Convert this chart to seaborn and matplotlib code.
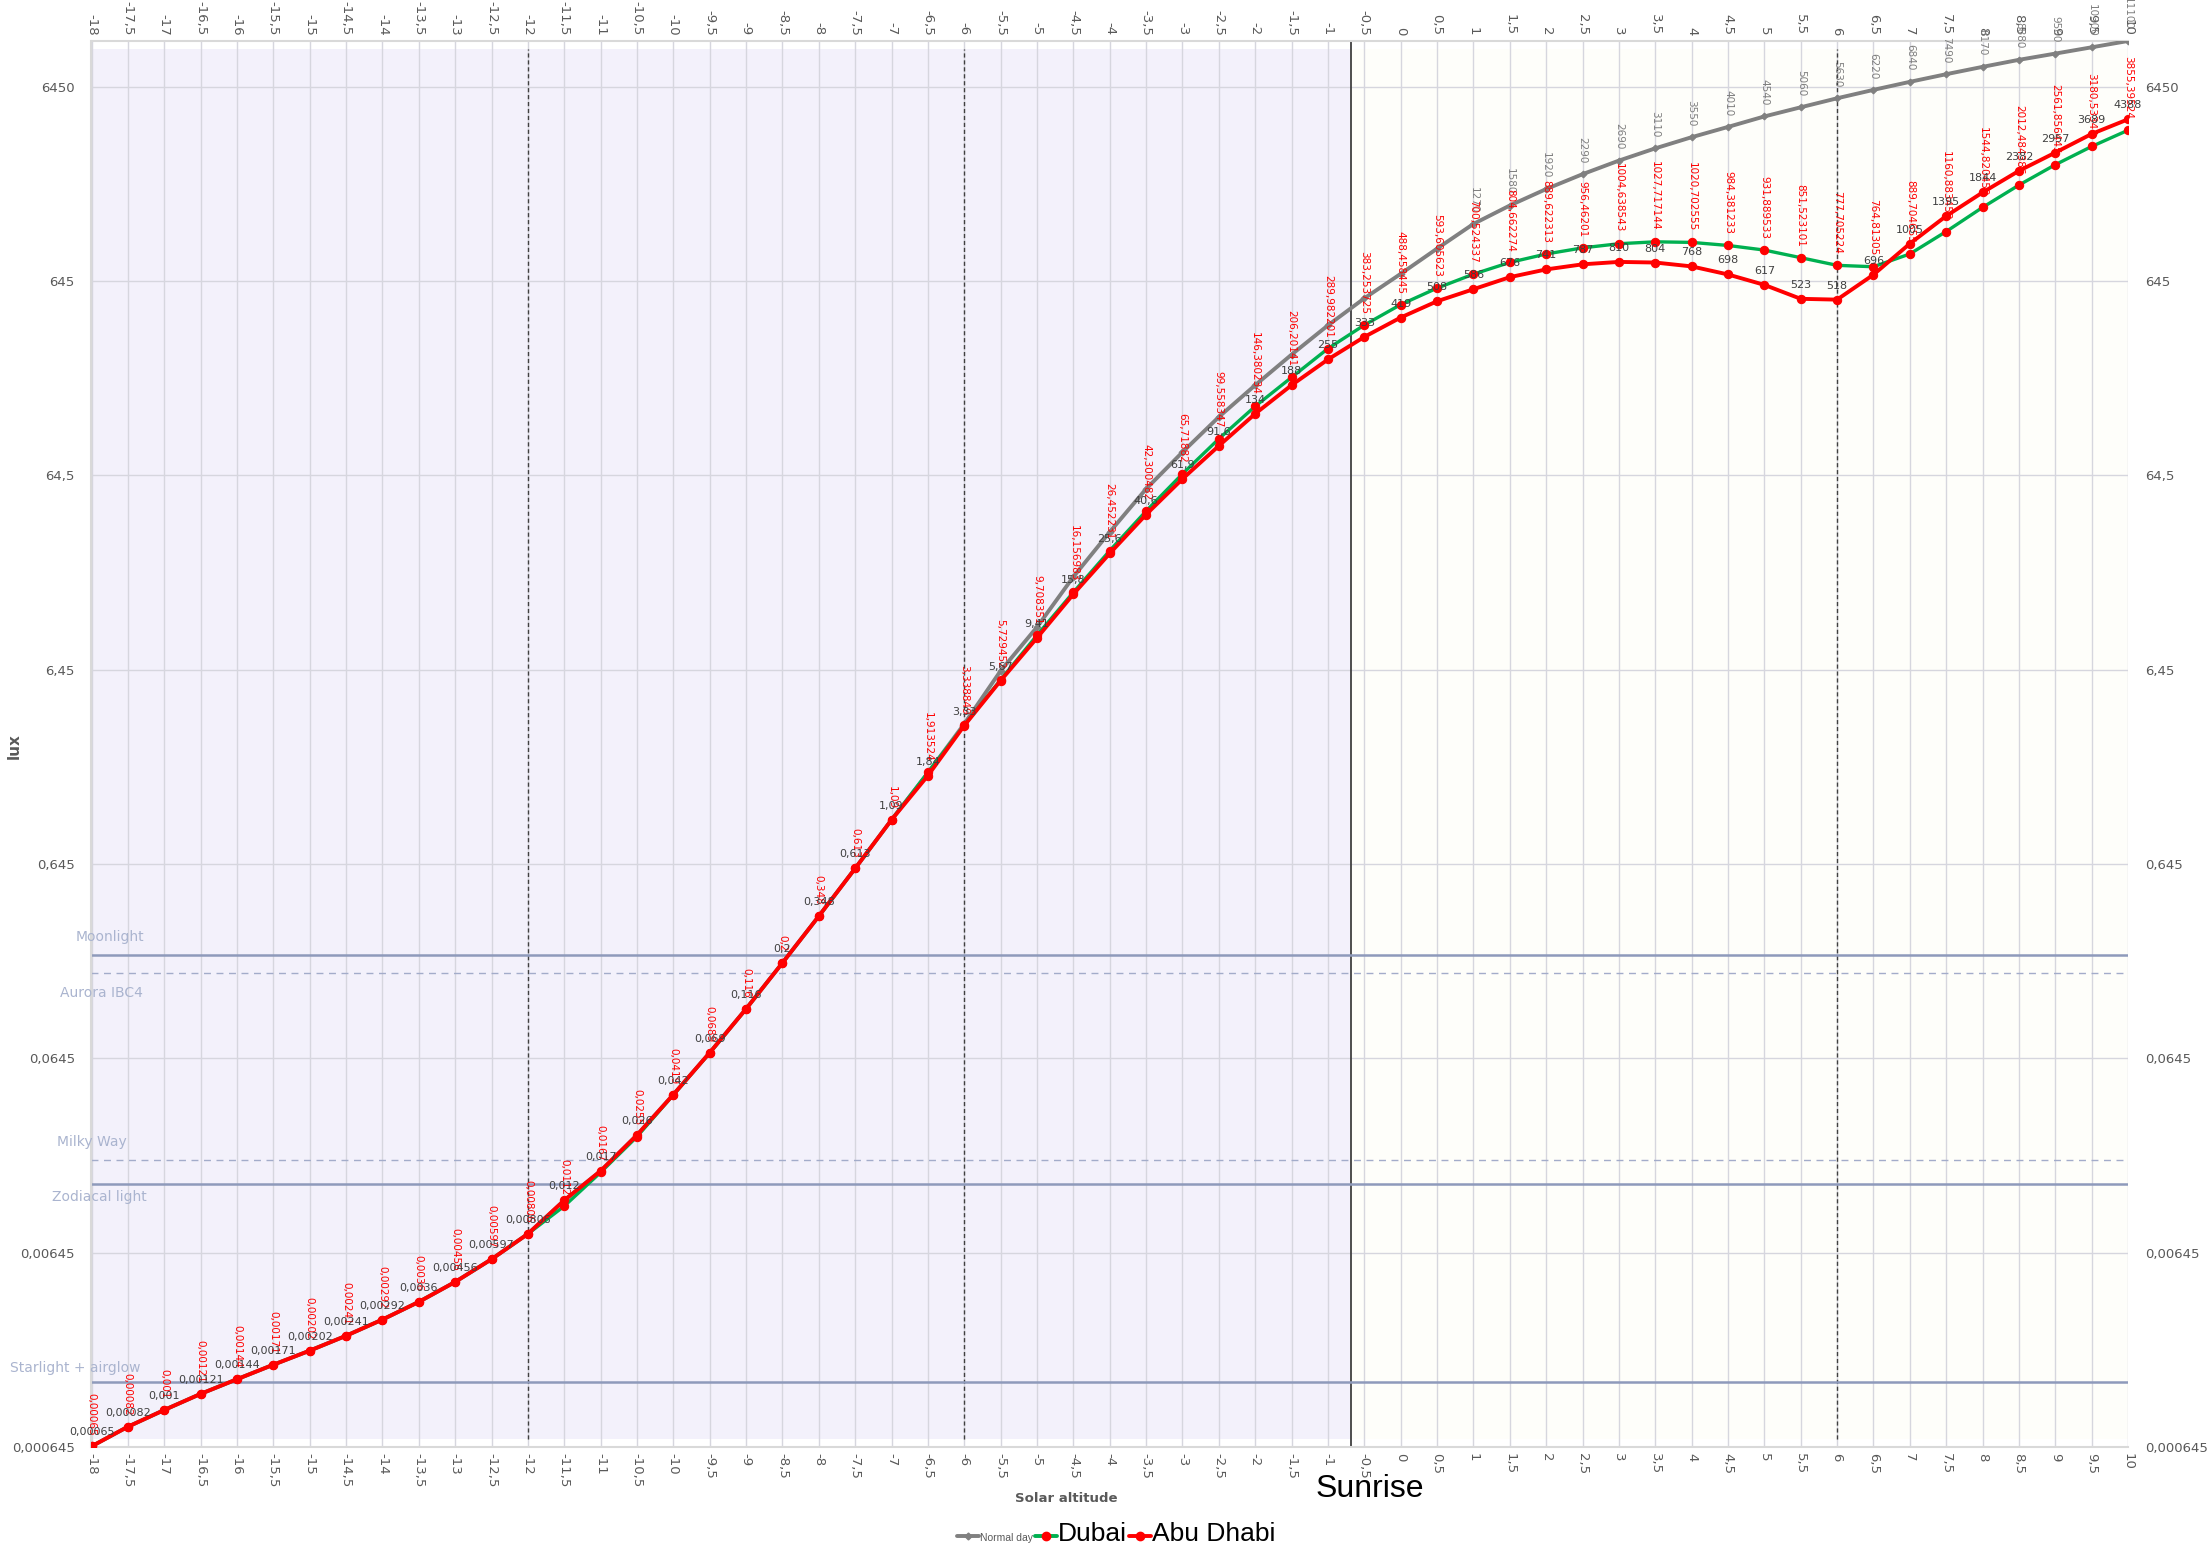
import numpy as np
import matplotlib
matplotlib.use("Agg")
import matplotlib.pyplot as plt
from matplotlib.lines import Line2D
import seaborn as sns

# solar altitude categories (degrees)
altitude = [-18, -17.5, -17, -16.5, -16, -15.5, -15, -14.5, -14, -13.5, -13, -12.5,
            -12, -11.5, -11, -10.5, -10, -9.5, -9, -8.5, -8, -7.5, -7, -6.5,
            -6, -5.5, -5, -4.5, -4, -3.5, -3, -2.5, -2, -1.5, -1, -0.5,
            0, 0.5, 1, 1.5, 2, 2.5, 3, 3.5, 4, 4.5, 5, 5.5, 6, 6.5, 7, 7.5,
            8, 8.5, 9, 9.5, 10]

normal_day = [0.00065, 0.00082, 0.001, 0.00121, 0.00144, 0.00171, 0.00202, 0.00241,
              0.00292, 0.0036, 0.00456, 0.00597, 0.00806, 0.012, 0.017, 0.026,
              0.042, 0.069, 0.116, 0.2, 0.348, 0.613, 1.09, 1.9,
              3.4, 6.37, 10.7, 19.4, 33, 55, 85, 129, 188, 270, 382, 526,
              703, 948, 1270, 1580, 1920, 2290, 2690, 3110, 3550, 4010, 4540,
              5060, 5630, 6220, 6840, 7490, 8170, 8880, 9560, 10300, 11100]

dubai = [0.00065, 0.00082, 0.001, 0.00121, 0.00144, 0.00171, 0.00202, 0.00241,
         0.00292, 0.0036, 0.00456, 0.00597, 0.00806, 0.0112, 0.0167, 0.0255,
         0.0419, 0.0689, 0.116, 0.2, 0.348, 0.613, 1.09, 1.913524,
         3.338849, 5.729452, 9.708351, 16.156983, 26.452231, 42.300482,
         65.71882, 99.558347, 146.380234, 206.20141, 289.982201, 383.253725,
         488.458445, 593.605623, 700.524337, 804.662274, 889.622313, 956.46201,
         1004.638543, 1027.717144, 1020.702555, 984.381233, 931.889533,
         851.523101, 777.705224, 764.81305, 889.704655, 1160.883453,
         1544.820459, 2012.484386, 2561.856445, 3180.53344, 3855.39524]

abu_dhabi = [0.00065, 0.00082, 0.001, 0.00121, 0.00144, 0.00171, 0.00202, 0.00241,
             0.00292, 0.0036, 0.00456, 0.00597, 0.00806, 0.012, 0.017, 0.026,
             0.042, 0.069, 0.116, 0.2, 0.348, 0.613, 1.09, 1.84,
             3.33, 5.67, 9.41, 15.8, 25.6, 40.6, 61.9, 91.6, 134, 188, 255, 333,
             419, 508, 586, 676, 741, 787, 810, 804, 768, 698, 617, 523, 518,
             696, 1005, 1395, 1844, 2382, 2957, 3689, 4388]

# reference light levels
ref_names = ["Moonlight", "Aurora IBC4", "Milky Way", "Zodiacal light", "Starlight + airglow"]
ref_lux = [0.22, 0.178, 0.0194, 0.0146, 0.0014]
ref_dashed = [False, True, True, False, False]

twilight_marks = [-12, -6, 6]
sunrise_alt = -0.68
y_ticks = [0.000645, 0.00645, 0.0645, 0.645, 6.45, 64.5, 645, 6450]


def comma(v):
    return f"{v:.10g}".replace(".", ",")


sns.set_style("white")
narrow = ["Liberation Sans Narrow", "Liberation Sans", "DejaVu Sans"]

fig = plt.figure(figsize=(22.07, 15.56), dpi=100)
ax = fig.add_axes([91.5 / 2207, 1 - 1447 / 1556, (2128 - 91.5) / 2207, (1447 - 41) / 1556])

# background zones
ax.axvspan(altitude[0], sunrise_alt, ymin=0.006, ymax=0.994, color="#f3f1fb", zorder=0.2, lw=0)
ax.axvspan(sunrise_alt, altitude[-1], ymin=0.006, ymax=0.994, color="#fefefa", zorder=0.2, lw=0)

sns.lineplot(x=altitude, y=normal_day, ax=ax, color="#808080", lw=2.8, marker="D",
             markersize=3.5, markeredgecolor="#808080", zorder=3, legend=False)
sns.lineplot(x=altitude, y=dubai, ax=ax, color="#00b050", lw=2.4, marker="o",
             markersize=6, markerfacecolor="#ff0000", markeredgecolor="#ff0000", zorder=4, legend=False)
sns.lineplot(x=altitude, y=abu_dhabi, ax=ax, color="#ff0000", lw=2.8, marker="o",
             markersize=6, markerfacecolor="#ff0000", markeredgecolor="#ff0000", zorder=5, legend=False)

ax.set_yscale("log")
ax.set_xlim(altitude[0], altitude[-1])
ax.set_ylim(y_ticks[0], 11100)
ax.set_yticks(y_ticks)
ax.set_yticklabels([comma(v) for v in y_ticks])
ax.yaxis.set_minor_locator(matplotlib.ticker.NullLocator())
ax.set_xticks(altitude)
ax.set_xticklabels([comma(a) for a in altitude])
ax.tick_params(axis="x", top=True, labeltop=True, labelrotation=270, length=0,
               labelsize=9.5, labelcolor="#595959", pad=4)
ax.tick_params(axis="y", right=True, labelright=True, length=0,
               labelsize=9.5, labelcolor="#595959", pad=12)
ax.grid(True, color="#d6d6de", lw=1)
ax.set_axisbelow(True)
for side, sp in ax.spines.items():
    sp.set_color("#d9d9d9")
    sp.set_linewidth(1.5)
ax.spines["right"].set_visible(False)
ax.set_xlabel("")
ax.set_ylabel("")

# twilight boundaries and sunrise
for a in twilight_marks:
    ax.axvline(a, ymin=0.006, ymax=0.994, color="#404040", lw=1, ls=(0, (3, 2)), zorder=2)
ax.axvline(sunrise_alt, color="#404040", lw=1.3, zorder=2)

# reference illuminance lines
label_x = [0.0091, 0.0047, 0.0002, 0.004, -0.008]
label_dy = [18, -20, 18, -13, 14]
for name, val, dashed, lx, dy in zip(ref_names, ref_lux, ref_dashed, label_x, label_dy):
    if dashed:
        ax.axhline(val, color="#a3acca", lw=1, ls=(0, (5, 4)), zorder=2)
    else:
        ax.axhline(val, color="#8e9abb", lw=1.8, zorder=2)
    ax.annotate(name, xy=(lx, val), xycoords=("axes fraction", "data"), xytext=(0, dy),
                textcoords="offset pixels", ha="center", va="center", fontsize=10,
                color="#aab4cf", annotation_clip=False)

# data labels
for a, v in zip(altitude, normal_day):
    if a >= 1:
        ax.annotate(comma(v), xy=(a, v), xytext=(0, 11), textcoords="offset pixels",
                    rotation=270, ha="center", va="bottom", fontsize=7.5, color="#7f7f7f",
                    zorder=6, annotation_clip=False)
for a, v in zip(altitude, dubai):
    ax.annotate(comma(v), xy=(a, v), xytext=(0, 11), textcoords="offset pixels",
                rotation=270, ha="center", va="bottom", fontsize=7.5, color="#ff0000", zorder=6)
for a, v in zip(altitude, abu_dhabi):
    ax.annotate(comma(v), xy=(a, v), xytext=(0, 9), textcoords="offset pixels",
                ha="center", va="bottom", fontsize=8, color="#404040", zorder=6)

fig.text(14 / 2207, 1 - 746 / 1556, "lux", rotation=90, ha="center", va="center",
         fontsize=11, fontweight="bold", color="#595959")
fig.text(1066 / 2207, 1 - 1499 / 1556, "Solar altitude", ha="center", va="center",
         fontsize=9.5, fontweight="bold", color="#595959")
fig.text(1370 / 2207, 1 - 1489 / 1556, "Sunrise", ha="center", va="center",
         fontsize=23, color="black", family=narrow)

handles = [
    Line2D([], [], color="#808080", lw=2.8, marker="D", markersize=3.5),
    Line2D([], [], color="#00b050", lw=2.8, marker="o", markersize=6,
           markerfacecolor="#ff0000", markeredgecolor="#ff0000"),
    Line2D([], [], color="#ff0000", lw=2.8, marker="o", markersize=6,
           markerfacecolor="#ff0000", markeredgecolor="#ff0000"),
]
leg = fig.legend(handles, ["Normal day", "Dubai", "Abu Dhabi"], loc="center",
                 bbox_to_anchor=(1116 / 2207, 1 - 1534 / 1556), ncol=3, frameon=False,
                 handlelength=1.6, handletextpad=0.1, columnspacing=0.1)
for t, size, col in zip(leg.get_texts(), [7.5, 19, 19], ["#595959", "black", "black"]):
    t.set_fontsize(size)
    t.set_family(narrow)
    t.set_color(col)

fig.savefig("out.png", dpi=100)
